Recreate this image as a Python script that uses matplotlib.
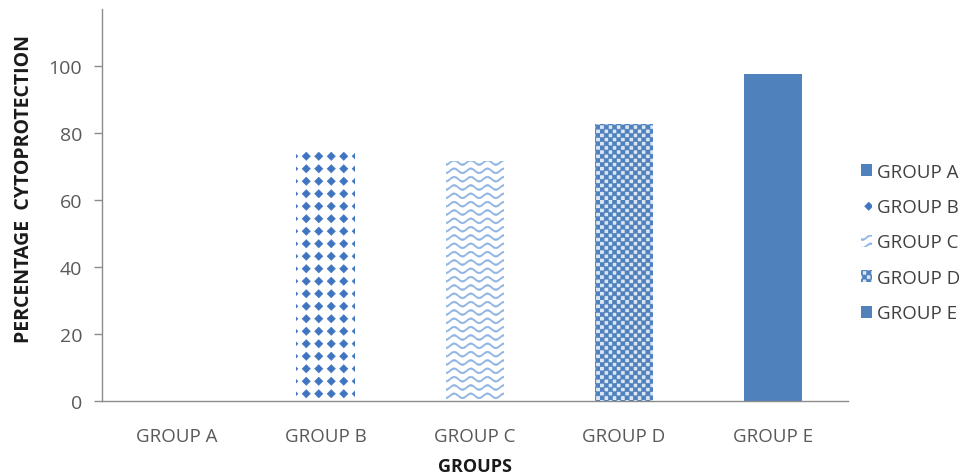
import warnings
import numpy as np
import matplotlib
matplotlib.use("Agg")
import matplotlib.pyplot as plt
from matplotlib import hatch as mhatch
from matplotlib.path import Path

warnings.filterwarnings("ignore", message=".*hatch must consist.*")

# data
groups = ["GROUP A", "GROUP B", "GROUP C", "GROUP D", "GROUP E"]
cytoprotection = [0, 74.2, 71.5, 82.6, 97.5]
y_ticks = [0, 20, 40, 60, 80, 100]

BLUE = "#4F81BD"


class TileHatch(mhatch.HatchPatternBase):
    """Repeat a closed shape over an n x n grid of the hatch tile."""
    char = None
    n = 1

    def __init__(self, hatch, density):
        self.active = self.char in hatch
        self.cells = self.make_cells() if self.active else []
        self.num_vertices = sum(len(c) for c in self.cells)

    def make_cells(self):
        return []

    def set_vertices_and_codes(self, vertices, codes):
        cur = 0
        for poly in self.cells:
            k = len(poly)
            vertices[cur:cur + k] = poly
            codes[cur] = Path.MOVETO
            codes[cur + 1:cur + k - 1] = Path.LINETO
            codes[cur + k - 1] = Path.CLOSEPOLY
            cur += k


class DiamondHatch(TileHatch):
    char = "d"
    n = 8

    def make_cells(self):
        s = 1.0 / self.n
        r = 0.33 * s
        out = []
        for i in range(self.n):
            for j in range(self.n):
                cx, cy = (i + 0.5) * s, (j + 0.5) * s
                out.append(np.array([[cx, cy - r], [cx + r, cy], [cx, cy + r],
                                     [cx - r, cy], [cx, cy - r]]))
        return out


class WaveHatch(TileHatch):
    char = "w"
    n = 12

    def make_cells(self):
        xs = np.linspace(0, 1, 121)
        amp, half = 0.022, 0.008
        out = []
        for j in range(self.n):
            y0 = (j + 0.5) / self.n
            y = y0 + amp * np.sin(2 * np.pi * 6 * xs)
            upper = np.column_stack([xs, y + half])
            lower = np.column_stack([xs[::-1], (y - half)[::-1]])
            out.append(np.vstack([upper, lower, upper[:1]]))
        return out


class CheckerHatch(TileHatch):
    char = "c"
    n = 24

    def make_cells(self):
        s = 1.0 / self.n
        out = []
        for i in range(self.n):
            for j in range(self.n):
                if (i + j) % 2 == 0:
                    x, y = i * s, j * s
                    out.append(np.array([[x, y], [x + s, y], [x + s, y + s],
                                         [x, y + s], [x, y]]))
        return out


mhatch._hatch_types.extend([DiamondHatch, WaveHatch, CheckerHatch])

plt.rcParams["font.family"] = ["Open Sans", "DejaVu Sans"]
plt.rcParams["hatch.linewidth"] = 0.4

fig = plt.figure(figsize=(9.68, 4.77), dpi=100)
ax = fig.add_axes([0.105, 0.158, 0.771, 0.821])

x = np.arange(len(groups))
faces = [BLUE, "white", "white", "#DCE6F2", BLUE]
hatch_colors = [BLUE, "#3F75C0", "#8EB4E3", BLUE, BLUE]
hatches = [None, "d", "w", "c", None]

for xi, val, lab, fc, hc, h in zip(x, cytoprotection, groups, faces,
                                   hatch_colors, hatches):
    ax.bar(xi, val, width=0.39, color=fc, edgecolor=hc, linewidth=0,
           hatch=h, label=lab)

ax.set_xlim(-0.5, len(groups) - 0.5)
ax.set_ylim(0, 117)
ax.set_yticks(y_ticks)
ax.set_xticks(x)
ax.set_xticklabels(groups)

for side in ["top", "right"]:
    ax.spines[side].set_visible(False)
for side in ["left", "bottom"]:
    ax.spines[side].set_color("#8C8C8C")
    ax.spines[side].set_linewidth(1.0)

ax.tick_params(axis="y", length=6, width=1, color="#8C8C8C", pad=8,
               labelsize=14, labelcolor="#595959")
ax.tick_params(axis="x", length=0, pad=19, labelsize=13.5,
               labelcolor="#595959")

ax.set_ylabel("PERCENTAGE  CYTOPROTECTION", fontsize=14,
              fontweight="bold", color="#1A1A1A")
ax.yaxis.set_label_coords(-0.091, 0.544)
ax.set_xlabel("GROUPS", fontsize=13, fontweight="bold", color="#1A1A1A")
ax.xaxis.set_label_coords(0.5, -0.145)

ax.legend(loc="upper left", bbox_to_anchor=(0.889, 0.657),
          bbox_transform=fig.transFigure, frameon=False, fontsize=13.5,
          handlelength=0.6, handleheight=0.6, handletextpad=0.27,
          labelspacing=0.93, labelcolor="#404040", borderaxespad=0,
          borderpad=0)

fig.savefig("out.png", dpi=100)
